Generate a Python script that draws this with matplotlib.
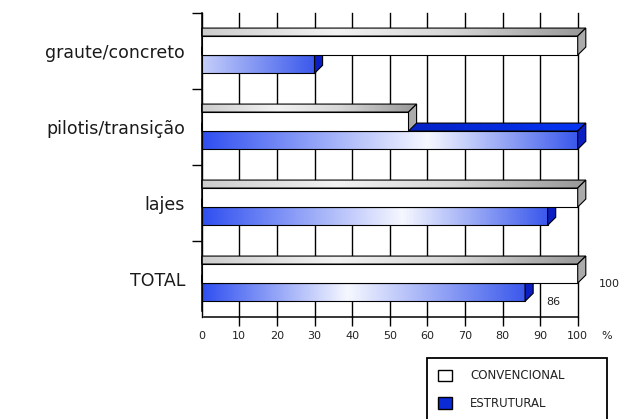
import numpy as np
import matplotlib
matplotlib.use("Agg")
import matplotlib.pyplot as plt
from matplotlib.patches import Polygon, Rectangle, Patch
from matplotlib.colors import to_rgb
from matplotlib.transforms import blended_transform_factory

# ---- data -------------------------------------------------------------
categories = ["graute/concreto", "pilotis/transição", "lajes", "TOTAL"]
convencional = [100, 55, 100, 100]
estrutural = [30, 100, 92, 86]
series_names = ["CONVENCIONAL", "ESTRUTURAL"]
x_ticks = [0, 10, 20, 30, 40, 50, 60, 70, 80, 90, 100]
labelled_category = "TOTAL"

# ---- style ------------------------------------------------------------
plt.rcParams["font.family"] = ["DejaVu Sans"]
EDGE = "black"
LW = 0.8
DX = 2.15          # depth of the 3-D bars along x (data units)
DY = 0.105         # depth of the 3-D bars along y (band units)
TOP_OFFSET = 0.303 # front face of the first bar inside a band
H_CONV = 0.25
H_ESTR = 0.24
# where the light streak sits on each blue bar (fraction of its length)
highlight = [-0.35, 0.6, 0.58, 0.45]

GRAY_TOP = [(0.0, "#cdcdcd"), (0.35, "#f2f2f2"), (0.65, "#d6d6d6"), (1.0, "#979797")]
GRAY_SIDE = "#ababab"
BLUE_TOP = [(0.0, "#000a8c"), (1.0, "#0636f6")]
BLUE_SIDE = "#0a1ec4"
BLUE_L = "#2f4ff0"
BLUE_R = "#3a58ec"
BLUE_HI = "#f6f8ff"


def hgrad(stops, n=256):
    pos = np.array([s[0] for s in stops])
    cols = np.array([to_rgb(s[1]) for s in stops])
    t = np.linspace(0, 1, n)
    img = np.stack([np.interp(t, pos, cols[:, k]) for k in range(3)], axis=-1)
    return img[np.newaxis, :, :]


def draw_bar(ax, fig, value, y_top, height, front, top_stops, side_color, z):
    y_bot = y_top + height
    # front face
    if isinstance(front, str):
        ax.add_patch(Rectangle((0, y_top), value, height, facecolor=front,
                               edgecolor=EDGE, lw=LW, zorder=z))
    else:
        ax.imshow(hgrad(front), extent=(0, value, y_bot, y_top), aspect="auto",
                  interpolation="bilinear", zorder=z)
        ax.add_patch(Rectangle((0, y_top), value, height, fill=False,
                               edgecolor=EDGE, lw=LW, zorder=z + 0.02))
    # top face
    top = Polygon([(0, y_top), (value, y_top), (value + DX, y_top - DY), (0, y_top - DY)],
                  closed=True, fill=False, edgecolor=EDGE, lw=LW, zorder=z + 0.1,
                  clip_on=False)
    ax.add_patch(top)
    im = ax.imshow(hgrad(top_stops), extent=(0, value + DX, y_top, y_top - DY),
                   aspect="auto", interpolation="bilinear", zorder=z + 0.05)
    im.set_clip_path(top)
    im.set_clip_box(fig.bbox)
    # side face
    ax.add_patch(Polygon([(value, y_top), (value + DX, y_top - DY),
                          (value + DX, y_bot - DY), (value, y_bot)],
                         closed=True, facecolor=side_color, edgecolor=EDGE, lw=LW,
                         zorder=z + 0.1, clip_on=False))
    return y_bot


fig = plt.figure(figsize=(6.22, 4.19), dpi=100)
ax = fig.add_axes([0.3243, 0.2434, 0.6045, 0.7255])

for i, cat in enumerate(categories):
    y_conv = i + TOP_OFFSET
    y_estr = y_conv + H_CONV
    c = highlight[i]
    if c <= 0:
        front = [(c, BLUE_HI), (1.0, BLUE_R)]
    else:
        front = [(0.0, BLUE_L), (c, BLUE_HI), (1.0, BLUE_R)]
    yb_e = draw_bar(ax, fig, estrutural[i], y_estr, H_ESTR, front, BLUE_TOP, BLUE_SIDE, 2)
    yb_c = draw_bar(ax, fig, convencional[i], y_conv, H_CONV, "white", GRAY_TOP, GRAY_SIDE, 3)
    if cat == labelled_category:
        for v, yb in ((convencional[i], yb_c), (estrutural[i], yb_e)):
            ax.annotate(f"{v}", xy=(v, yb), xytext=(21, -1), textcoords="offset pixels",
                        ha="left", va="center", fontsize=8, color="#222222",
                        annotation_clip=False)

ax.set_xlim(0, 100)
ax.set_ylim(len(categories), 0)

# x axis: grid lines continue below the floor as ticks
ax.set_xticks(x_ticks)
ax.set_xticklabels([str(t) for t in x_ticks], fontsize=8, color="#222222")
ax.tick_params(axis="x", direction="out", length=6.5, width=1.0, pad=3.6, color=EDGE)
ax.xaxis.get_major_ticks()[0].tick1line.set_visible(False)
ax.grid(axis="x", color=EDGE, lw=1.0)
for gl in ax.get_xgridlines():
    gl.set_clip_on(False)
ax.set_axisbelow(True)
ax.text(107.8, -0.063, "%", transform=blended_transform_factory(ax.transData, ax.transAxes),
        ha="center", va="center", fontsize=8, color="#222222", clip_on=False)

# y axis: category names centred in each band, ticks on band edges
ax.set_yticks(np.arange(len(categories)) + 0.5)
ax.set_yticklabels(categories, fontsize=12.5, color="#1a1a1a")
ax.set_yticks(np.arange(len(categories)), minor=True)
ax.tick_params(axis="y", which="major", left=False, pad=8.5)
ax.tick_params(axis="y", which="minor", direction="out", length=7.2, width=1.0, color=EDGE)

for s in ("top", "right"):
    ax.spines[s].set_visible(False)
ax.spines["left"].set_bounds(0, len(categories) - 0.08)
ax.spines["bottom"].set_bounds(0.7, 100)
for s in ("left", "bottom"):
    ax.spines[s].set_linewidth(1.1)
    ax.spines[s].set_zorder(5)

handles = [Patch(facecolor="white", edgecolor=EDGE, lw=1.0),
           Patch(facecolor="#0b2bd6", edgecolor=EDGE, lw=1.0)]
leg_top = 1 - 358 / 419
leg = fig.legend(handles, series_names, loc="upper left",
                 bbox_to_anchor=(427 / 622, leg_top - 0.01, 180 / 622, 0.01),
                 mode="expand", borderaxespad=0,
                 fontsize=8.5, frameon=True, fancybox=False, framealpha=1,
                 edgecolor=EDGE, borderpad=0.95, handlelength=1.15, handleheight=1.1,
                 handletextpad=1.55, labelspacing=1.25)
leg.get_frame().set_linewidth(1.3)
for t in leg.get_texts():
    t.set_color("#222222")

fig.savefig("out.png", dpi=100)
